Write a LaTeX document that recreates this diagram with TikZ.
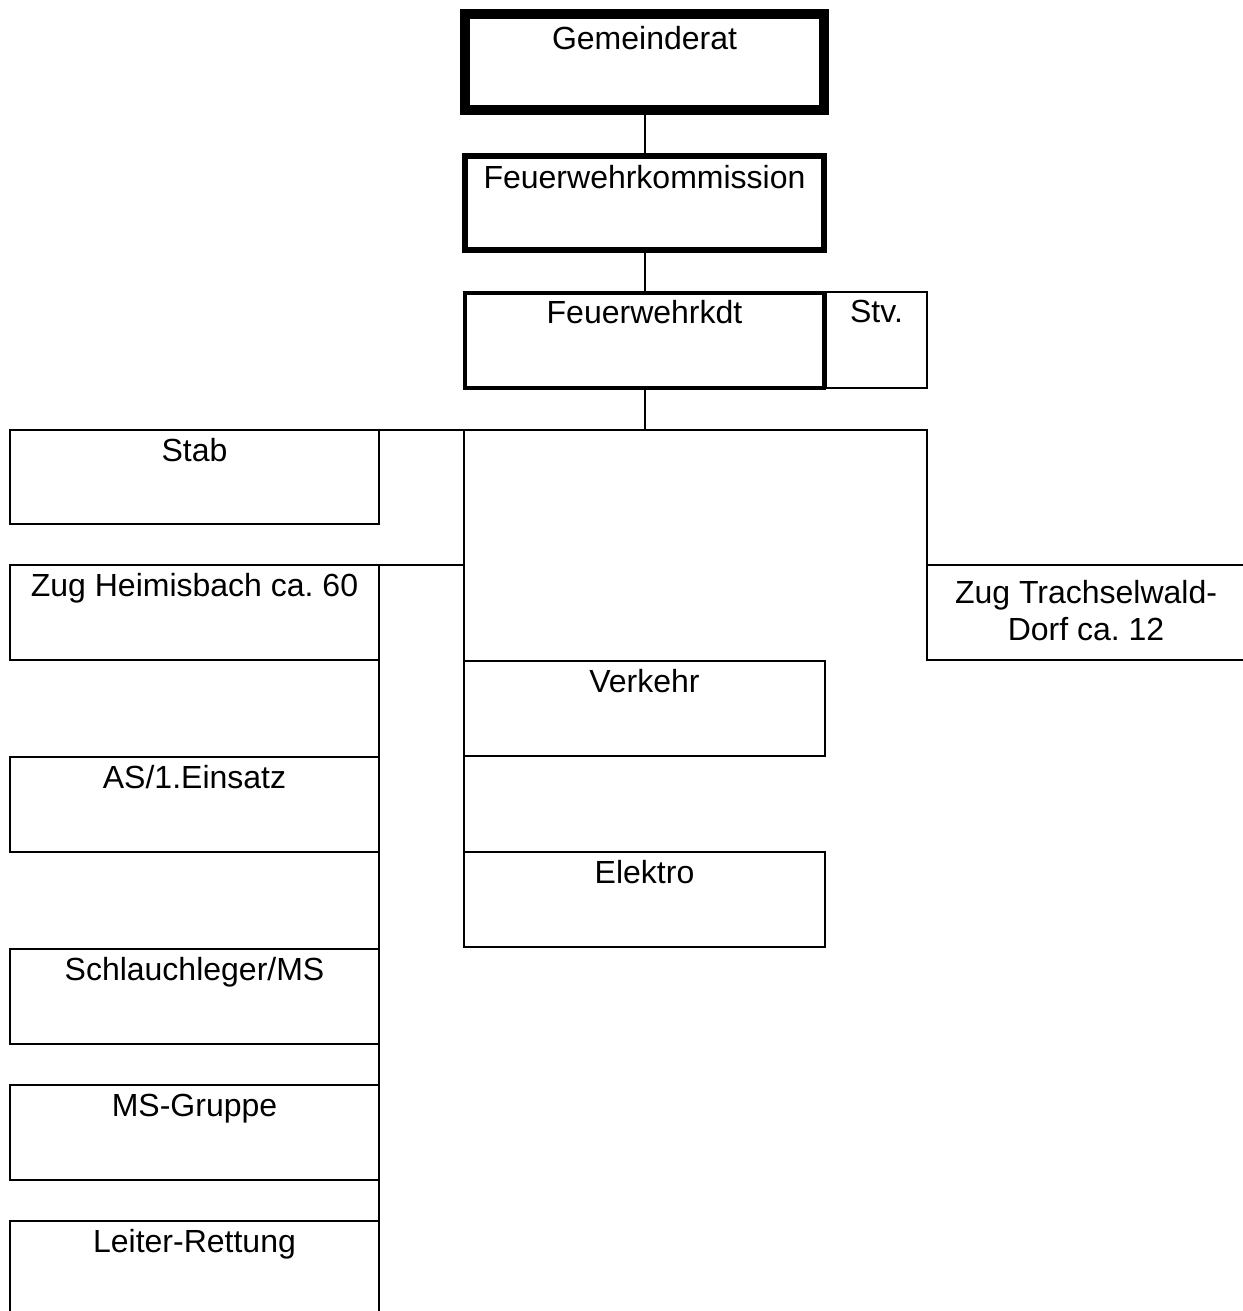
\documentclass[tikz,border=0pt]{standalone}
\usepackage{fontspec}
\setmainfont{Liberation Sans}
\usetikzlibrary{positioning}
\frenchspacing

\tikzset{
  ufficio/.style={draw, line width=1pt, inner xsep=0pt, inner ysep=0pt, outer sep=0pt,
    anchor=north west, align=center, minimum width=184.5pt,
    text height=15.5pt, text depth=32pt},
  vertice/.style={ufficio, minimum width=179.5pt},
  linea/.style={line width=1pt}
}

\begin{document}
\begin{tikzpicture}[x=0.5pt,y=-0.5pt,font=\fontsize{16pt}{18.5pt}\selectfont]

    \useasboundingbox (0,0) rectangle (1242,1311);

    % Vertici
    \node[vertice, line width=5pt, text height=18pt, text depth=30pt] (gr) at (465,14) {Gemeinderat};
    \node[vertice, line width=3pt, text height=16pt, text depth=31pt] (fk) at (465,156) {Feuerwehrkommission};
    \node[vertice, line width=2pt, text height=15pt, text depth=32.5pt] (kdt) at (465,293) {Feuerwehrkdt};
    \node[ufficio, minimum width=50.5pt, text height=15pt, text depth=33pt] (stv) at (826,292) {Stv.};

    % Colonna sinistra
    \node[ufficio, text depth=31.5pt] (stab) at (10,430) {Stab};
    \node[ufficio] (zh) at (10,565) {Zug Heimisbach ca. 60};
    \node[ufficio] (as) at (10,757) {AS/1.Einsatz};
    \node[ufficio] (sl) at (10,949) {Schlauchleger/MS};
    \node[ufficio] (msg) at (10,1085) {MS-Gruppe};
    \node[ufficio] (lr) at (10,1221) {Leiter-Rettung};

    % Colonna centrale
    \node[ufficio, minimum width=180.5pt] (vk) at (464,661) {Verkehr};
    \node[ufficio, minimum width=180.5pt] (el) at (464,852) {Elektro};

    % Destra (tagliato dal bordo)
    \node[ufficio, minimum width=159pt, text depth=0pt, minimum height=47.5pt,
          anchor=north west] (zt) at (927,565) {};
    \node[anchor=north, align=center, inner sep=0pt] (ztt) at (1086,580)
          {Zug Trachselwald-\\Dorf ca. 12};

    % Collegamenti
    \draw[linea] (gr.south) -- (fk.north);
    \draw[linea] (fk.south) -- (kdt.north);
    \coordinate (nodo) at (kdt.south |- stab.north east);
    \draw[linea] (kdt.south) -- (nodo);
    \draw[linea] (stab.north east) -| (zt.north west);
    \draw[linea] (vk.north west |- stab.north east) -- (vk.north west);
    \draw[linea] (zh.north east) -- (vk.north west |- zh.north east);
    \draw[linea] (vk.south west) -- (el.north west);

    % Tratto verticale a sinistra
    \draw[linea] (zh.south east) -- (as.north east);
    \draw[linea] (as.south east) -- (sl.north east);
    \draw[linea] (sl.south east) -- (msg.north east);
    \draw[linea] (msg.south east) -- (lr.north east);

\end{tikzpicture}
\end{document}
